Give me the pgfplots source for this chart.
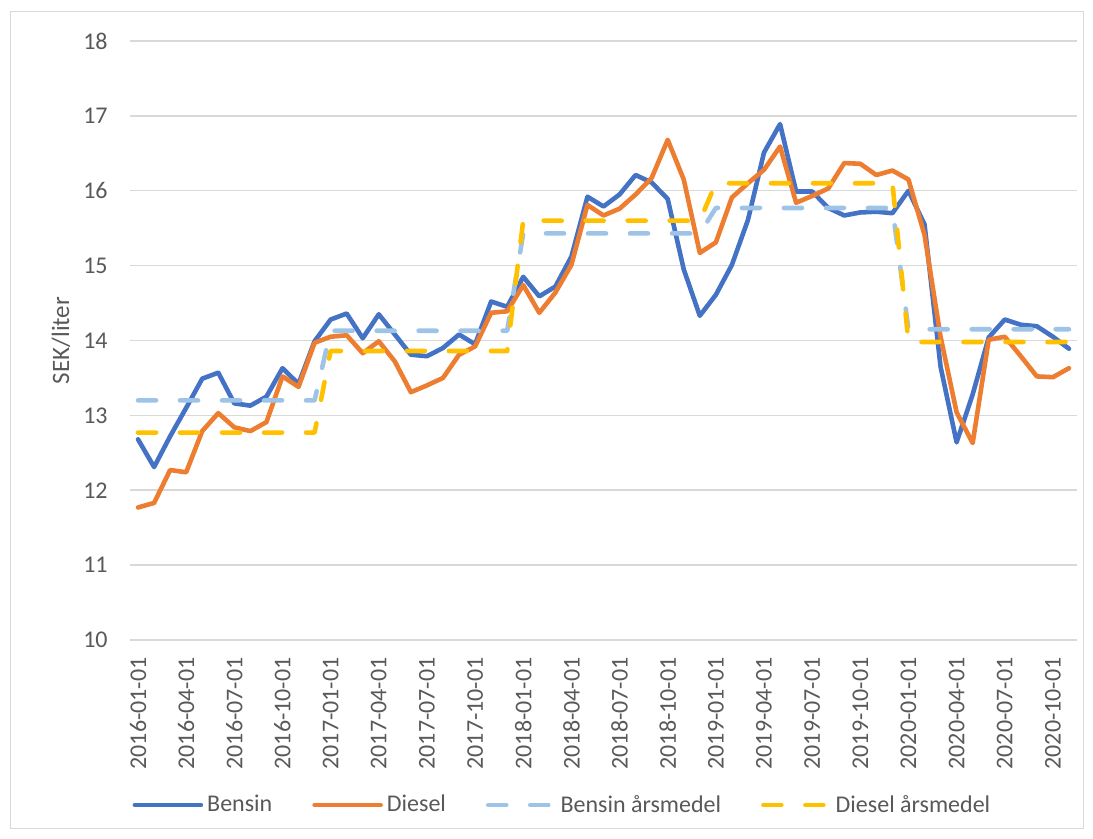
\documentclass[border=0pt]{standalone}
\usepackage{fontspec}
\setmainfont{Carlito}
\usepackage{pgfplots}
\pgfplotsset{compat=1.18}

\definecolor{bensin}{HTML}{4472C4}
\definecolor{diesel}{HTML}{ED7D31}
\definecolor{bensinmedel}{HTML}{9DC3E6}
\definecolor{dieselmedel}{HTML}{FFC000}
\definecolor{txt}{HTML}{595959}
\definecolor{grd}{HTML}{D9D9D9}

% monthly prices, 2016-01 .. 2020-11 (index 0..58)
\pgfplotstableread{
i bensin diesel
0 12.68 11.77
1 12.31 11.83
2 12.72 12.27
3 13.10 12.24
4 13.49 12.79
5 13.57 13.03
6 13.16 12.84
7 13.13 12.79
8 13.25 12.91
9 13.63 13.52
10 13.42 13.38
11 13.99 13.97
12 14.28 14.05
13 14.36 14.07
14 14.03 13.83
15 14.35 13.99
16 14.08 13.72
17 13.81 13.31
18 13.79 13.40
19 13.90 13.50
20 14.08 13.81
21 13.95 13.92
22 14.52 14.37
23 14.45 14.39
24 14.85 14.74
25 14.59 14.37
26 14.72 14.64
27 15.12 15.01
28 15.92 15.81
29 15.79 15.67
30 15.95 15.76
31 16.21 15.95
32 16.11 16.17
33 15.89 16.68
34 14.95 16.15
35 14.33 15.17
36 14.61 15.31
37 15.01 15.91
38 15.61 16.10
39 16.51 16.28
40 16.89 16.59
41 15.99 15.84
42 15.99 15.93
43 15.77 16.03
44 15.67 16.37
45 15.71 16.36
46 15.72 16.21
47 15.70 16.27
48 16.00 16.15
49 15.55 15.41
50 13.65 14.05
51 12.64 13.04
52 13.28 12.63
53 14.04 14.01
54 14.28 14.05
55 14.21 13.79
56 14.19 13.52
57 14.05 13.51
58 13.89 13.63
}\priser

% yearly means (first and last month of each year)
\pgfplotstableread{
i bensin diesel
0 13.20 12.77
11 13.20 12.77
12 14.13 13.86
23 14.13 13.86
24 15.43 15.60
35 15.43 15.60
36 15.77 16.10
47 15.77 16.10
48 14.15 13.98
58 14.15 13.98
}\medel

\begin{document}
\begin{tikzpicture}
\path[use as bounding box] (0,0) rectangle (546.5pt,419.5pt);
\draw[grd, line width=0.5pt] (5pt,5pt) rectangle (541.5pt,413.5pt);
\begin{axis}[
  at={(65pt,99.5pt)}, anchor=south west,
  scale only axis,
  width=473.5pt, height=299.5pt,
  xmin=-0.5, xmax=58.5,
  ymin=10, ymax=18,
  ytick={10,11,...,18},
  xtick={0,3,...,57},
  xticklabels={2016-01-01,2016-04-01,2016-07-01,2016-10-01,
    2017-01-01,2017-04-01,2017-07-01,2017-10-01,
    2018-01-01,2018-04-01,2018-07-01,2018-10-01,
    2019-01-01,2019-04-01,2019-07-01,2019-10-01,
    2020-01-01,2020-04-01,2020-07-01,2020-10-01},
  axis line style={draw=none},
  major tick length=0pt,
  ymajorgrids=true,
  grid style={grd, line width=0.75pt},
  /pgf/number format/assume math mode=true,
  tick label style={font=\fontsize{12}{14}\selectfont, text=txt},
  xticklabel style={rotate=90, anchor=east, inner xsep=8.5pt, inner ysep=0pt},
  yticklabel style={inner xsep=11pt},
  ylabel={SEK/liter},
  ylabel style={at={(axis description cs:-0.0729,0.5)}, anchor=center,
    font=\fontsize{12.5}{14}\selectfont, text=txt},
  legend columns=4,
  legend style={at={(axis description cs:-0.004,-0.2755)}, anchor=west,
    draw=none, fill=none, font=\fontsize{12}{14}\selectfont, text=txt,
    /tikz/every even column/.append style={column sep=18pt}},
  legend cell align=left,
  legend image code/.code={\draw[#1] (0pt,0pt) -- (33pt,0pt);},
  every axis plot/.append style={line width=2.3pt, line join=round, line cap=round},
]
\addplot[bensin] table[x=i, y=bensin] {\priser};
\addlegendentry{Bensin}
\addplot[diesel] table[x=i, y=diesel] {\priser};
\addlegendentry{Diesel}
\addplot[bensinmedel, dash pattern=on 9pt off 12pt] table[x=i, y=bensin] {\medel};
\addlegendentry{Bensin årsmedel}
\addplot[dieselmedel, dash pattern=on 9pt off 12pt] table[x=i, y=diesel] {\medel};
\addlegendentry{Diesel årsmedel}
\end{axis}
\end{tikzpicture}
\end{document}
